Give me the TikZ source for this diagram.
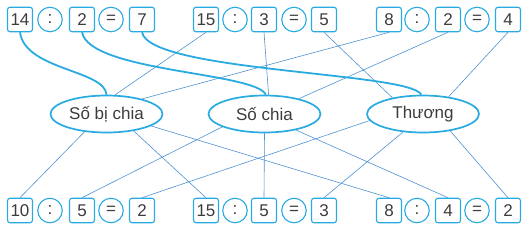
\documentclass[tikz,border=0pt]{standalone}
\usepackage{fontspec}
\setmainfont{Liberation Sans}
\usetikzlibrary{shapes.geometric}
\definecolor{boxblue}{RGB}{41,171,226}
\definecolor{lineblue}{RGB}{78,145,210}
\definecolor{textgray}{RGB}{60,60,60}
\tikzset{
  numbox/.style={draw=boxblue, line width=1.1pt, rounded corners=2.5pt, minimum width=25pt, minimum height=24.5pt, inner sep=0pt, text=textgray, font=\fontsize{17}{19}\selectfont},
  opcirc/.style={draw=boxblue, line width=1.1pt, circle, minimum size=24.5pt, inner sep=0pt, text=textgray, font=\fontsize{17}{19}\selectfont},
  namebox/.style={draw=boxblue, line width=1.7pt, ellipse, minimum width=112pt, minimum height=37pt, inner sep=0pt, text=textgray, font=\fontsize{17}{19}\selectfont},
  link/.style={lineblue, line width=0.6pt},
  bendline/.style={boxblue, line width=1.8pt},
}

\begin{document}
\begin{tikzpicture}[x=1pt,y=-1pt]
\useasboundingbox (0,0) rectangle (531,226);
% top row
\node[numbox] (a1) at (20,19.5) {14};
\node[opcirc] (ta1) at (50,19.5) {:};
\node[numbox] (b1) at (82,19.5) {2};
\node[opcirc] (te1) at (111,19.5) {=};
\node[numbox] (c1) at (142,19.5) {7};
\node[numbox] (a2) at (206,19.5) {15};
\node[opcirc] (ta2) at (235,19.5) {:};
\node[numbox] (b2) at (264,19.5) {3};
\node[opcirc] (te2) at (294,19.5) {=};
\node[numbox] (c2) at (324,19.5) {5};
\node[numbox] (a3) at (389,19.5) {8};
\node[opcirc] (ta3) at (417,19.5) {:};
\node[numbox] (b3) at (448,19.5) {2};
\node[opcirc] (te3) at (477,19.5) {=};
\node[numbox] (c3) at (508,19.5) {4};
% bottom row
\node[numbox] (d1) at (20,210.5) {10};
\node[opcirc] (ba1) at (50,210.5) {:};
\node[numbox] (e1) at (82,210.5) {5};
\node[opcirc] (be1) at (111,210.5) {=};
\node[numbox] (f1) at (142,210.5) {2};
\node[numbox] (d2) at (206,210.5) {15};
\node[opcirc] (ba2) at (235,210.5) {:};
\node[numbox] (e2) at (264,210.5) {5};
\node[opcirc] (be2) at (294,210.5) {=};
\node[numbox] (f2) at (324,210.5) {3};
\node[numbox] (d3) at (389,210.5) {8};
\node[opcirc] (ba3) at (417,210.5) {:};
\node[numbox] (e3) at (448,210.5) {4};
\node[opcirc] (be3) at (477,210.5) {=};
\node[numbox] (f3) at (508,210.5) {2};
% names
\node[namebox] (sobichia) at (106.5,114) {Số bị chia};
\node[namebox] (sochia) at (264.5,114) {Số chia};
\node[namebox] (thuong) at (423,114) {Thương};
% thin links
\draw[link] (a2.south) -- (sobichia.66);
\draw[link] (a3.south) -- (sobichia.23);
\draw[link] (b2.south) -- (sochia.78);
\draw[link] (b3.south) -- (sochia.24);
\draw[link] (c2.south) -- (thuong.152);
\draw[link] (c3.south) -- (thuong.34);
\draw[link] (sobichia.-141) -- (d1.north);
\draw[link] (sobichia.-32) -- (d2.north);
\draw[link] (sobichia.-15) -- (d3.north);
\draw[link] (sochia.-163) -- (e1.north);
\draw[link] (sochia.-90) -- (e2.north);
\draw[link] (sochia.-27) -- (e3.north);
\draw[link] (thuong.-173) -- (f1.north);
\draw[link] (thuong.-138) -- (f2.north);
\draw[link] (thuong.-32) -- (f3.north);
% thick curves
\draw[bendline] (a1.south) .. controls (25,70) and (105,70) .. (sobichia.90);
\draw[bendline] (b1.south) .. controls (90,72) and (255,72) .. (sochia.86);
\draw[bendline] (c1.south) .. controls (150,72) and (410,72) .. (thuong.95);
\end{tikzpicture}
\end{document}
